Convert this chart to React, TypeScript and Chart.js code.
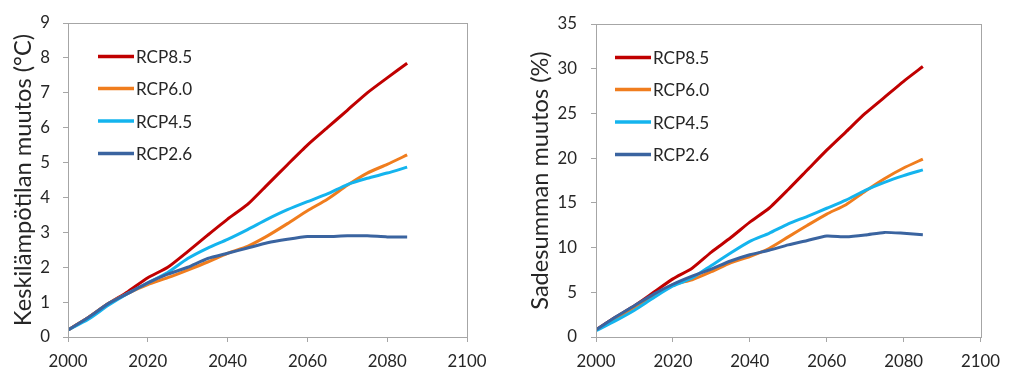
import React, { useEffect, useRef } from "react";
import { Chart, registerables } from "chart.js";

Chart.register(...registerables);

const years = [2000, 2005, 2010, 2015, 2020, 2025, 2030, 2035, 2040, 2045, 2050, 2055, 2060, 2065, 2070, 2075, 2080, 2085];

const seriesNames = ["RCP8.5", "RCP6.0", "RCP4.5", "RCP2.6"];
const seriesColors = ["#C00000", "#F07D1E", "#14B4EE", "#3A64A0"];

const tempRcp85 = [0.2, 0.55, 0.95, 1.3, 1.7, 2.0, 2.45, 2.92, 3.38, 3.8, 4.37, 4.94, 5.5, 6.0, 6.5, 7.0, 7.43, 7.85];
const tempRcp60 = [0.2, 0.55, 0.95, 1.25, 1.5, 1.7, 1.92, 2.15, 2.4, 2.6, 2.9, 3.25, 3.62, 3.95, 4.35, 4.7, 4.95, 5.22];
const tempRcp45 = [0.2, 0.5, 0.9, 1.25, 1.55, 1.85, 2.25, 2.55, 2.8, 3.08, 3.38, 3.65, 3.88, 4.1, 4.37, 4.55, 4.7, 4.87];
const tempRcp26 = [0.2, 0.55, 0.95, 1.25, 1.55, 1.8, 2.0, 2.25, 2.4, 2.55, 2.7, 2.8, 2.88, 2.88, 2.9, 2.9, 2.87, 2.87];

const precRcp85 = [0.8, 2.2, 3.5, 5.0, 6.5, 7.7, 9.5, 11.1, 12.85, 14.4, 16.5, 18.7, 20.9, 22.95, 25.0, 26.8, 28.6, 30.25];
const precRcp60 = [0.8, 2.0, 3.3, 4.6, 5.85, 6.4, 7.3, 8.3, 9.0, 9.9, 11.2, 12.5, 13.75, 14.8, 16.3, 17.7, 18.9, 19.9];
const precRcp45 = [0.7, 1.8, 3.0, 4.4, 5.7, 6.6, 8.0, 9.4, 10.7, 11.6, 12.65, 13.5, 14.4, 15.3, 16.4, 17.3, 18.05, 18.7];
const precRcp26 = [0.8, 2.2, 3.5, 4.8, 5.9, 6.8, 7.6, 8.5, 9.2, 9.7, 10.3, 10.8, 11.3, 11.2, 11.4, 11.7, 11.6, 11.45];

const xTicks = [2000, 2020, 2040, 2060, 2080, 2100];

const FONT = "Lato, 'Open Sans', sans-serif";
const TEXT = "#262626";
const BORDER = "#A6A6A6";

// pick a font size so that a text reaches a given width
function fitSize(text: string, targetWidth: number): number {
  const c = document.createElement("canvas").getContext("2d")!;
  c.font = "100px " + FONT;
  const w = c.measureText(text).width;
  return Math.round((100 * targetWidth) / w * 10) / 10;
}

type PanelCfg = {
  values: number[][];
  yMax: number;
  yStep: number;
  yTitle: string;
  titleSpan: number;
  titleCenterX: number;
  leftWidth: number;
  rightPad: number;
  topPad: number;
  legendX: number;
  yTickPad: number;
};

function makeChart(canvas: HTMLCanvasElement, cfg: PanelCfg) {
  const tickSize = fitSize("2000", 39);
  const legendSize = fitSize("RCP8.5", 56);
  const titleSize = fitSize(cfg.yTitle, cfg.titleSpan);
  const titlePad = Math.max(0, cfg.titleCenterX - titleSize * 0.6);

  const boxPlugin = {
    id: "boxlegend",
    afterDatasetsDraw(chart: any) {
      const { ctx, chartArea } = chart;
      ctx.save();
      ctx.strokeStyle = BORDER;
      ctx.lineWidth = 1;
      ctx.strokeRect(
        Math.round(chartArea.left) + 0.5,
        Math.round(chartArea.top) + 0.5,
        Math.round(chartArea.right - chartArea.left),
        Math.round(chartArea.bottom - chartArea.top)
      );
      const rows = [33.5, 65.5, 98, 130.5];
      ctx.font = legendSize + "px " + FONT;
      ctx.textBaseline = "middle";
      ctx.textAlign = "left";
      seriesNames.forEach((name, i) => {
        const y = chartArea.top + rows[i];
        const x0 = chartArea.left + cfg.legendX;
        ctx.strokeStyle = seriesColors[i];
        ctx.lineWidth = 3.5;
        ctx.beginPath();
        ctx.moveTo(x0, y);
        ctx.lineTo(x0 + 36, y);
        ctx.stroke();
        ctx.fillStyle = TEXT;
        ctx.fillText(name, x0 + 38, y + 1);
      });
      ctx.restore();
    },
  };

  return new Chart(canvas, {
    type: "line",
    data: {
      datasets: seriesNames
        .map((name, i) => ({
          label: name,
          data: years.map((yr, j) => ({ x: yr, y: cfg.values[i][j] })),
          borderColor: seriesColors[i],
          backgroundColor: seriesColors[i],
          borderWidth: 3,
          pointRadius: 0,
          tension: 0.2,
        }))
        .reverse(),
    },
    options: {
      animation: false,
      responsive: false,
      maintainAspectRatio: false,
      layout: { padding: { left: 0, right: cfg.rightPad, top: cfg.topPad, bottom: 0 } },
      plugins: { legend: { display: false }, tooltip: { enabled: false } },
      scales: {
        x: {
          type: "linear",
          min: 2000,
          max: 2100,
          afterBuildTicks: (s: any) => {
            s.ticks = xTicks.map((v) => ({ value: v }));
          },
          afterFit: (s: any) => {
            s.height = 35;
          },
          grid: {
            drawOnChartArea: false,
            drawTicks: true,
            tickLength: 5,
            color: BORDER,
          },
          border: { display: true, color: BORDER },
          ticks: {
            font: { family: FONT, size: tickSize },
            color: TEXT,
            padding: 10,
            maxRotation: 0,
            callback: (v: any) => String(v),
          },
        },
        y: {
          min: 0,
          max: cfg.yMax,
          afterFit: (s: any) => {
            s.width = cfg.leftWidth;
          },
          grid: {
            drawOnChartArea: false,
            drawTicks: true,
            tickLength: 5,
            color: BORDER,
          },
          border: { display: true, color: BORDER },
          ticks: {
            stepSize: cfg.yStep,
            font: { family: FONT, size: tickSize },
            color: TEXT,
            padding: cfg.yTickPad,
          },
          title: {
            display: true,
            text: cfg.yTitle,
            font: { family: FONT, size: titleSize },
            color: TEXT,
            padding: { top: titlePad, bottom: 0 },
          },
        },
      },
    },
    plugins: [boxPlugin],
  } as any);
}

export default function App() {
  const leftRef = useRef<HTMLCanvasElement>(null);
  const rightRef = useRef<HTMLCanvasElement>(null);

  useEffect(() => {
    const c1 = makeChart(leftRef.current!, {
      values: [tempRcp85, tempRcp60, tempRcp45, tempRcp26],
      yMax: 9,
      yStep: 1,
      yTitle: "Keskilämpötilan muutos (°C)",
      titleSpan: 292,
      titleCenterX: 23,
      leftWidth: 68,
      rightPad: 38,
      topPad: 18,
      legendX: 30,
      yTickPad: 13,
    });
    const c2 = makeChart(rightRef.current!, {
      values: [precRcp85, precRcp60, precRcp45, precRcp26],
      yMax: 35,
      yStep: 5,
      yTitle: "Sadesumman muutos (%)",
      titleSpan: 258,
      titleCenterX: 35,
      leftWidth: 91,
      rightPad: 26,
      topPad: 19,
      legendX: 19,
      yTickPad: 14,
    });
    return () => {
      c1.destroy();
      c2.destroy();
    };
  }, []);

  return (
    <div
      style={{
        position: "absolute",
        left: 0,
        top: 0,
        width: 1010,
        height: 372,
        background: "#fff",
        display: "flex",
      }}
    >
      <canvas ref={leftRef} width={505} height={372} style={{ width: 505, height: 372 }} />
      <canvas ref={rightRef} width={505} height={372} style={{ width: 505, height: 372 }} />
    </div>
  );
}
